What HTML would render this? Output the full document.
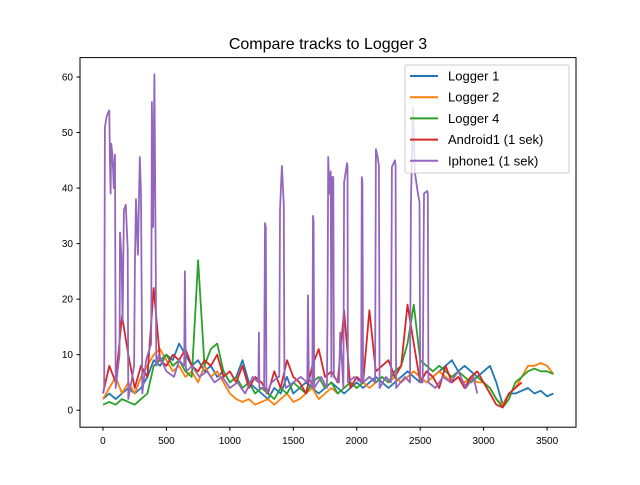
<!DOCTYPE html>
<html><head><meta charset="utf-8"><style>
body{margin:0;background:#fff}
svg{font-family:"Liberation Sans","DejaVu Sans",sans-serif}
</style></head><body>
<svg id="chart" width="640" height="480" xmlns="http://www.w3.org/2000/svg">
<rect width="640" height="480" fill="#fff"/>
<text x="328" y="49" font-size="16" text-anchor="middle">Compare tracks to Logger 3</text>
<g id="plot"></g>
<rect x="80" y="57.6" width="496" height="369.6" fill="none" stroke="#000" stroke-width="1"/>
<g id="axes"></g>
<g id="legend"></g>
</svg>
<script>
const logger1 = [2,3,2,3,4,3,4,6,9,8,10,9,12,10,8,9,7,8,6,7,5,6,9,5,4,3,2,4,3,6,3,4,5,4,3,4,5,4,3,4,5,4,5,6,5,4,5,6,7,6,5,7,6,7,8,9,7,8,7,6,7,8,5,1,3,3,3.5,4,3,3.5,2.5,3];
const logger2 = [2,4,6,3,5,3,6,8,10,11,9,7,8,6,7,5,8,6,7,5,3,2,1.5,2,1,1.5,2,1,2,3,1.5,2,3,4,2,3,4,3,4,5,4,5,4,5,6,5,6,5,6,7,6,5,6,7,6,5,6,5,6,5,5,4,2,1,3,4,6,8,8,8.5,8,6.5];
const logger4 = [1,1.5,1,2,1.5,1,2,3,8,9,10,8,9,7,6,27,8,11,12,7,5,6,4,5,3,4,3,2,4,3,5,4,3,5,6,4,5,3,4,5,4,5,6,5,6,5,7,8,12,19,9,8,7,8,7,6,7,6,5,6,5,4,2,0.5,2,5,6,7,7.5,7,7,6.5];
const android1 = [3,8,5,17,10,4,8,6,22,9,8,10,9,11,8,7,9,8,10,6,7,5,8,4,6,5,3,7,4,9,6,5,3,8,11,6,7,5,18,4,6,5,18,7,8,9,6,8,19,12,5,7,6,4,8,5,6,4,6,7,5,3,1,0.5,3,4,5];
const iphoneX = [0,10,15,30,50,55,60,65,75,85,95,100,120,130,134,145,155,165,180,195,200,230,245,252,260,275,290,300,310,340,380,386,395,405,415,420,440,500,560,600,640,646,652,660,700,760,820,880,940,1000,1060,1120,1180,1225,1229,1233,1250,1270,1277,1283,1288,1330,1380,1390,1395,1410,1425,1430,1440,1500,1560,1610,1616,1622,1640,1650,1655,1660,1665,1720,1765,1770,1775,1785,1795,1800,1805,1815,1820,1860,1870,1895,1900,1923,1927,1930,1980,2035,2040,2045,2050,2100,2145,2151,2165,2175,2180,2230,2270,2277,2301,2306,2310,2380,2420,2427,2443,2459,2482,2495,2500,2510,2520,2530,2555,2560,2565,2620,2680,2740,2800,2860,2920,2950];
const iphoneY = [3,4,51,53,54,45,39,48,46,40,46,4,8,10,32,28,16,36,37,29,2,6,8,26,38,28,45.6,39,3,9,12,55.5,33,60.5,30,8,10,7,6,9,8,25,8,7,8,6,7,5,6,4,5,3,6,5,14,4,4,4,33.7,33,3,5,6,6,36,44,37,6,4,5,6,5,20.7,6,5,4,35,34,4,6,4,19,45.6,39,43,6,42,42,6,5,14,4,41,44.5,44,5,6,5,42,41,5,6,5,47,45.6,44,4,6,5,43.8,45,44,4,6,5,37,54.4,42.7,39,37.5,5,5,5,39,39.5,39,5,4,6,5,7,4,6,3];
const xTicks = [0,500,1000,1500,2000,2500,3000,3500];
const yTicks = [0,10,20,30,40,50,60];
const seriesNames = ["Logger 1","Logger 2","Logger 4","Android1 (1 sek)","Iphone1 (1 sek)"];
const colors = ["#1f77b4","#ff7f0e","#2ca02c","#d62728","#9467bd"];

const xMin=-181, xMax=3728, yMin=-3.06, yMax=63.5;
const L=80,R=576,T=57.6,B=427.2;
const sx=v=>L+(v-xMin)/(xMax-xMin)*(R-L);
const sy=v=>B-(v-yMin)/(yMax-yMin)*(B-T);
const NS="http://www.w3.org/2000/svg";
const plot=document.getElementById('plot'), axes=document.getElementById('axes'), legend=document.getElementById('legend');
function mk(tag,attrs,parent){const e=document.createElementNS(NS,tag);for(const k in attrs)e.setAttribute(k,attrs[k]);parent.appendChild(e);return e;}

function drawLine(xs,ys,color,name){
  const d=ys.map((y,i)=>(i?'L':'M')+sx(xs[i]).toFixed(1)+','+sy(y).toFixed(1)).join('');
  const p=mk('path',{d:d,fill:'none',stroke:color,'stroke-width':1.8,'stroke-linejoin':'round'},plot);
  
  
}
const step=i=>i*50;
drawLine(logger1.map((_,i)=>step(i)),logger1,colors[0],'line-logger-1');
drawLine(logger2.map((_,i)=>step(i)),logger2,colors[1],'line-logger-2');
drawLine(logger4.map((_,i)=>step(i)),logger4,colors[2],'line-logger-4');
drawLine(android1.map((_,i)=>step(i)),android1,colors[3],'line-android1');
drawLine(iphoneX,iphoneY,colors[4],'line-iphone1');

xTicks.forEach(v=>{
  const x=sx(v);
  const t=mk('line',{x1:x,x2:x,y1:B,y2:B+3.5,stroke:'#000'},axes);
  
  
  const l=mk('text',{x:x,y:B+17,'font-size':10,'text-anchor':'middle'},axes);
  l.textContent=v;
  
  
});
yTicks.forEach(v=>{
  const y=sy(v);
  const t=mk('line',{x1:L-3.5,x2:L,y1:y,y2:y,stroke:'#000'},axes);
  
  
  const l=mk('text',{x:L-7,y:y+3.5,'font-size':10,'text-anchor':'end'},axes);
  l.textContent=v;
  
  
});

const lb=mk('rect',{x:405,y:65,width:164,height:108,rx:2,fill:'#fff','fill-opacity':0.8,stroke:'#ccc'},legend);


seriesNames.forEach((n,i)=>{
  const y=76+i*21.2;
  const ln=mk('line',{x1:410,x2:438,y1:y,y2:y,stroke:colors[i],'stroke-width':2},legend);
  
  
  const t=mk('text',{x:448,y:y+4.5,'font-size':13},legend);
  t.textContent=n;
  
  
});
</script>
</body></html>
